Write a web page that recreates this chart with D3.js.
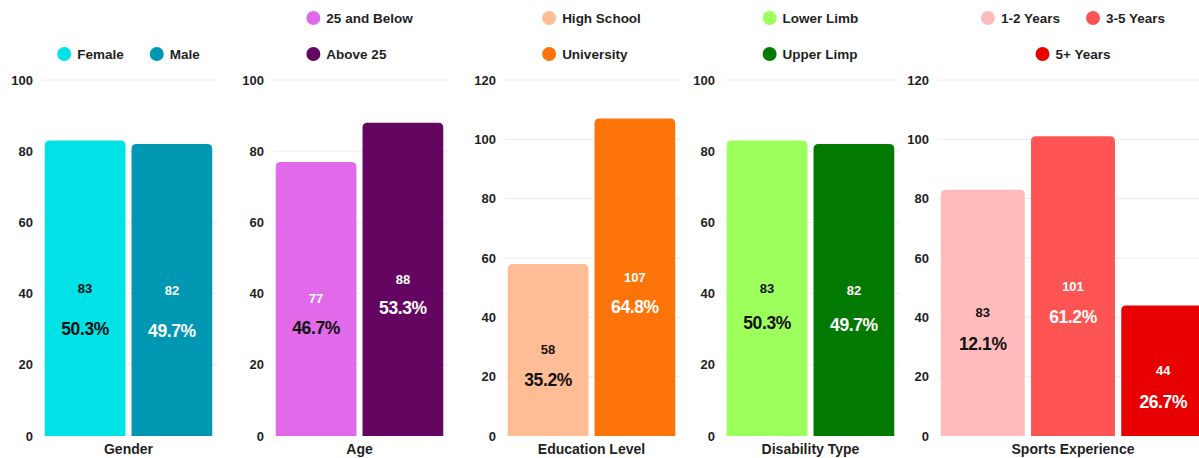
<!DOCTYPE html>
<html>
<head>
<meta charset="utf-8">
<script src="https://cdn.jsdelivr.net/npm/d3@7"></script>
<style>
  body { margin: 0; background: #fff; }
  svg { display: block; font-family: "Liberation Sans", Arial, sans-serif; }
  .tick text { font-size: 13px; font-weight: bold; fill: #1f1f1f; }
  .legend text { font-size: 13.5px; font-weight: bold; fill: #1f1f1f; }
  .xlabel { font-size: 14px; font-weight: bold; fill: #1f1f1f; }
  .val { font-size: 13px; font-weight: bold; }
  .pct { font-size: 17.5px; font-weight: bold; letter-spacing: -0.4px; }
</style>
</head>
<body>
<script>
// chart values
var genderCats = ['Female', 'Male'];
var genderValues = [83, 82];
var genderPct = ['50.3%', '49.7%'];

var ageCats = ['25 and Below', 'Above 25'];
var ageValues = [77, 88];
var agePct = ['46.7%', '53.3%'];

var eduCats = ['High School', 'University'];
var eduValues = [58, 107];
var eduPct = ['35.2%', '64.8%'];

var disCats = ['Lower Limb', 'Upper Limp'];
var disValues = [83, 82];
var disPct = ['50.3%', '49.7%'];

var sportCats = ['1-2 Years', '3-5 Years', '5+ Years'];
var sportValues = [83, 101, 44];
var sportPct = ['12.1%', '61.2%', '26.7%'];

var ticks100 = [0, 20, 40, 60, 80, 100];
var ticks120 = [0, 20, 40, 60, 80, 100, 120];

// layout / styling for each panel
var panels = [
    { title: 'Gender', cats: genderCats, values: genderValues, pct: genderPct, ticks: ticks100,
      x0: 43, x1: 214, colors: ['#00e2e6', '#0097b2'], valColor: ['#111', '#fff'], pctColor: ['#111', '#fff'],
      legendRows: [[0, 1]], legendAlign: 'center', pctGap: 41 },
    { title: 'Age', cats: ageCats, values: ageValues, pct: agePct, ticks: ticks100,
      x0: 274, x1: 445, colors: ['#e06ae9', '#640562'], valColor: ['#fff', '#fff'], pctColor: ['#111', '#fff'],
      legendRows: [[0], [1]], legendAlign: 'left', pctGap: 29 },
    { title: 'Education Level', cats: eduCats, values: eduValues, pct: eduPct, ticks: ticks120,
      x0: 506, x1: 677, colors: ['#ffbd95', '#ff7409'], valColor: ['#111', '#fff'], pctColor: ['#111', '#fff'],
      legendRows: [[0], [1]], legendAlign: 'left', pctGap: 30 },
    { title: 'Disability Type', cats: disCats, values: disValues, pct: disPct, ticks: ticks100,
      x0: 725, x1: 896, colors: ['#9dff5c', '#027a02'], valColor: ['#111', '#fff'], pctColor: ['#111', '#fff'],
      legendRows: [[0], [1]], legendAlign: 'left', pctGap: 35 },
    { title: 'Sports Experience', cats: sportCats, values: sportValues, pct: sportPct, ticks: ticks120,
      x0: 939, x1: 1207, colors: ['#ffbbbb', '#ff5454', '#e80000'], valColor: ['#111', '#fff', '#fff'], pctColor: ['#111', '#fff', '#fff'],
      legendRows: [[0, 1], [2]], legendAlign: 'center', pctGap: 31 }
];

var svg = d3.select('body').append('svg')
    .attr('width', 1199)
    .attr('height', 458);

var topRounded = function(x, y, w, h, r) {
    r = Math.min(r, h / 2, w / 2);
    return 'M' + x + ',' + (y + h) + 'V' + (y + r) +
        'Q' + x + ',' + y + ' ' + (x + r) + ',' + y +
        'H' + (x + w - r) +
        'Q' + (x + w) + ',' + y + ' ' + (x + w) + ',' + (y + r) +
        'V' + (y + h) + 'Z';
};

let drawPanel = p => {
    var g = svg.append('g');

    var yMax = d3.max(p.ticks);
    var yScale = d3.scaleLinear()
        .domain([0, yMax])
        .range([436, 80]);

    var xScale = d3.scaleBand()
        .domain(p.cats)
        .range([p.x0, p.x1])
        .paddingInner(0.07)
        .paddingOuter(0.02);

    // grid lines
    g.append('g')
        .selectAll('line')
        .data(p.ticks.filter(function(t) { return t > 0; }))
        .enter()
        .append('line')
            .attr('x1', p.x0 - 1)
            .attr('x2', p.x1 + 3)
            .attr('y1', function(d) { return yScale(d); })
            .attr('y2', function(d) { return yScale(d); })
            .attr('stroke', '#ececec')
            .attr('stroke-width', 1);

    var yAxis = d3.axisLeft(yScale).tickValues(p.ticks).tickSize(0).tickPadding(10);
    g.append('g')
        .attr('class', 'y axis')
        .attr('transform', 'translate(' + p.x0 + ',0)')
        .call(yAxis)
        .call(function(a) { a.select('.domain').remove(); });

    var rows = p.cats.map(function(c, i) {
        return { cat: c, value: p.values[i], pct: p.pct[i], i: i };
    });

    g.append('g')
        .selectAll('path')
        .data(rows)
        .enter()
        .append('path')
            .attr('d', function(d) {
                var y = yScale(d.value);
                return topRounded(xScale(d.cat), y, xScale.bandwidth(), yScale(0) - y, 5);
            })
            .attr('fill', function(d) { return p.colors[d.i]; });

    var labels = g.append('g')
        .selectAll('g')
        .data(rows)
        .enter()
        .append('g');

    labels.append('text')
        .attr('class', 'val')
        .attr('text-anchor', 'middle')
        .attr('dominant-baseline', 'central')
        .attr('x', function(d) { return xScale(d.cat) + xScale.bandwidth() / 2; })
        .attr('y', function(d) { return yScale(d.value / 2); })
        .attr('fill', function(d) { return p.valColor[d.i]; })
        .text(function(d) { return d.value; });

    labels.append('text')
        .attr('class', 'pct')
        .attr('text-anchor', 'middle')
        .attr('dominant-baseline', 'central')
        .attr('x', function(d) { return xScale(d.cat) + xScale.bandwidth() / 2; })
        .attr('y', function(d) { return yScale(d.value / 2) + p.pctGap; })
        .attr('fill', function(d) { return p.pctColor[d.i]; })
        .text(function(d) { return d.pct; });

    g.append('text')
        .attr('class', 'xlabel')
        .attr('text-anchor', 'middle')
        .attr('dominant-baseline', 'central')
        .attr('x', (p.x0 + p.x1) / 2)
        .attr('y', 449)
        .text(p.title);

    // legend, rows bottom aligned
    var legend = g.append('g').attr('class', 'legend');
    var cx = (p.x0 + p.x1) / 2;
    var nRows = p.legendRows.length;
    var items = [];
    p.legendRows.forEach(function(row, r) {
        var ly = 54 - (nRows - 1 - r) * 36;
        row.forEach(function(idx) {
            var it = legend.append('g');
            it.append('circle')
                .attr('r', 7)
                .attr('cx', 7)
                .attr('cy', 0)
                .attr('fill', p.colors[idx]);
            var t = it.append('text')
                .attr('x', 20)
                .attr('y', 0)
                .attr('dominant-baseline', 'central')
                .text(p.cats[idx]);
            items.push({ g: it, row: r, y: ly, w: 20 + t.node().getComputedTextLength() });
        });
    });
    var maxW = d3.max(items, function(d) { return d.w; });
    p.legendRows.forEach(function(row, r) {
        var its = items.filter(function(d) { return d.row === r; });
        var gap = 26;
        var total;
        if (p.legendAlign === 'left') {
            total = maxW;
        } else {
            total = d3.sum(its, function(d) { return d.w; }) + gap * (its.length - 1);
        }
        var x = cx - total / 2;
        its.forEach(function(d) {
            d.g.attr('transform', 'translate(' + x + ',' + d.y + ')');
            x += d.w + gap;
        });
    });
};

panels.forEach(drawPanel);
</script>
</body>
</html>
